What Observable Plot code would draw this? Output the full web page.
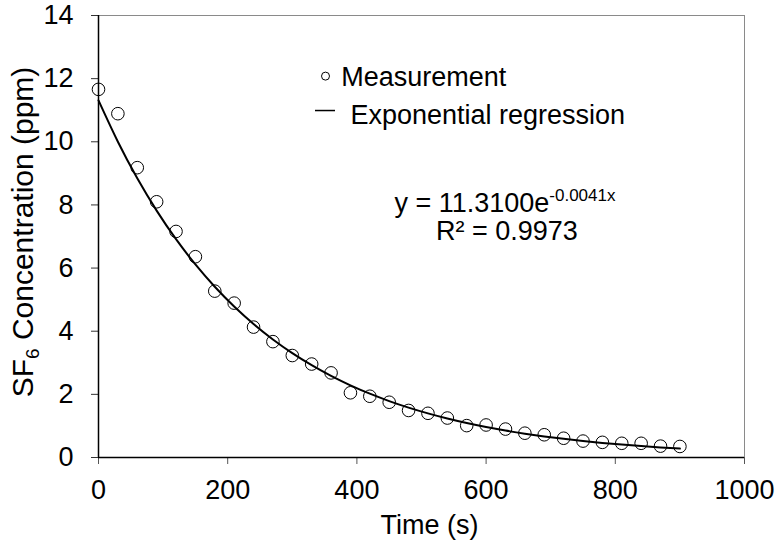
<!DOCTYPE html>
<html>
<head>
<meta charset="utf-8">
<script src="https://cdn.jsdelivr.net/npm/d3@7"></script>
<script src="https://cdn.jsdelivr.net/npm/@observablehq/plot@0.6"></script>
<style>
  html, body { margin: 0; padding: 0; background: white; }
  svg text { font-family: "Liberation Sans", Arial, sans-serif; }
</style>
</head>
<body>
<div id="chart"></div>
<script>
const times = [0, 30, 60, 90, 120, 150, 180, 210, 240, 270, 300, 330, 360, 390, 420, 450,
               480, 510, 540, 570, 600, 630, 660, 690, 720, 750, 780, 810, 840, 870, 900];
const concentrations = [11.66, 10.89, 9.18, 8.10, 7.16, 6.36, 5.27, 4.89, 4.13, 3.67, 3.23,
                        2.96, 2.68, 2.05, 1.94, 1.75, 1.49, 1.40, 1.25, 1.01, 1.03, 0.90,
                        0.77, 0.72, 0.61, 0.52, 0.48, 0.45, 0.45, 0.36, 0.35];

// Regression stated on the chart: y = 11.3100 e^(-0.0041 x)
const fitA = 11.31;
const fitB = -0.0041;

const xTicks = [0, 200, 400, 600, 800, 1000];
const yTicks = [0, 2, 4, 6, 8, 10, 12, 14];

const legendLabels = ["Measurement", "Exponential regression"];
const equationText = { main: "y = 11.3100e", sup: "-0.0041x", r2: "R² = 0.9973" };
const xLabel = "Time (s)";

const measurements = times.map((t, i) => ({ t, c: concentrations[i] }));
const fit = times.map(t => ({ t, c: fitA * Math.exp(fitB * t) }));

const plot = Plot.plot({
  width: 777,
  height: 545,
  marginLeft: 98,
  marginRight: 33,
  marginTop: 15,
  marginBottom: 88,
  style: { fontFamily: "Liberation Sans, Arial, sans-serif", fontSize: "27px", background: "white", color: "black", overflow: "visible" },
  x: { domain: [0, 1000], label: null },
  y: { domain: [0, 14], label: null },
  marks: [
    Plot.frame({ stroke: "#8a8a8a", strokeWidth: 1 }),
    Plot.axisX({ ticks: xTicks, tickFormat: d => String(d), tickSize: 7, tickPadding: 15, fontSize: 27, stroke: "#555", label: null }),
    Plot.axisY({ ticks: yTicks, tickFormat: d => String(d), tickSize: 7, tickPadding: 18, fontSize: 27, stroke: "#333", label: null }),
    Plot.ruleX([0], { stroke: "black", strokeWidth: 1.5 }),
    Plot.ruleY([0], { stroke: "black", strokeWidth: 1.5 }),
    Plot.line(fit, { x: "t", y: "c", stroke: "black", strokeWidth: 2, curve: "natural" }),
    Plot.dot(measurements, { x: "t", y: "c", r: 6.3, stroke: "black", strokeWidth: 1, fill: "none" }),
    // legend
    Plot.dot([{ x: 351.4, y: 12.08 }], { x: "x", y: "y", r: 4, stroke: "black", strokeWidth: 1, fill: "none" }),
    Plot.text([legendLabels[0]], { x: 375.7, y: 12.05, text: d => d, textAnchor: "start", lineAnchor: "middle", fontSize: 27, fill: "black" }),
    Plot.ruleY([10.99], { x1: 335.9, x2: 366.9, stroke: "black", strokeWidth: 1.5 }),
    Plot.text([legendLabels[1]], { x: 390, y: 10.84, text: d => d, textAnchor: "start", lineAnchor: "middle", fontSize: 27, fill: "black" }),
    // x axis title
    Plot.text([xLabel], { frameAnchor: "bottom", dx: 8, dy: 68, text: d => d, lineAnchor: "middle", fontSize: 27, fill: "black" })
  ]
});

document.getElementById("chart").appendChild(plot);

const svg = d3.select(plot);
const sx = plot.scale("x");
const sy = plot.scale("y");

// Equation annotation (with superscript), placed via the plot's scales
const eq = svg.append("text")
  .attr("x", sx.apply(630)).attr("y", sy.apply(7.77))
  .attr("text-anchor", "middle").attr("font-size", 27).attr("fill", "black");
eq.append("tspan").text(equationText.main);
eq.append("tspan").attr("font-size", 17).attr("dy", -11).text(equationText.sup);

svg.append("text")
  .attr("x", sx.apply(633)).attr("y", sy.apply(6.87))
  .attr("text-anchor", "middle").attr("font-size", 27).attr("fill", "black")
  .text(equationText.r2);

// Y axis title with subscript
const yl = svg.append("text")
  .attr("transform", "translate(33,232) rotate(-90)")
  .attr("text-anchor", "middle").attr("font-size", 30).attr("fill", "black");
yl.append("tspan").text("SF");
yl.append("tspan").attr("font-size", 19).attr("dy", 6).text("6");
yl.append("tspan").attr("dy", -6).text(" Concentration (ppm)");
</script>
</body>
</html>
